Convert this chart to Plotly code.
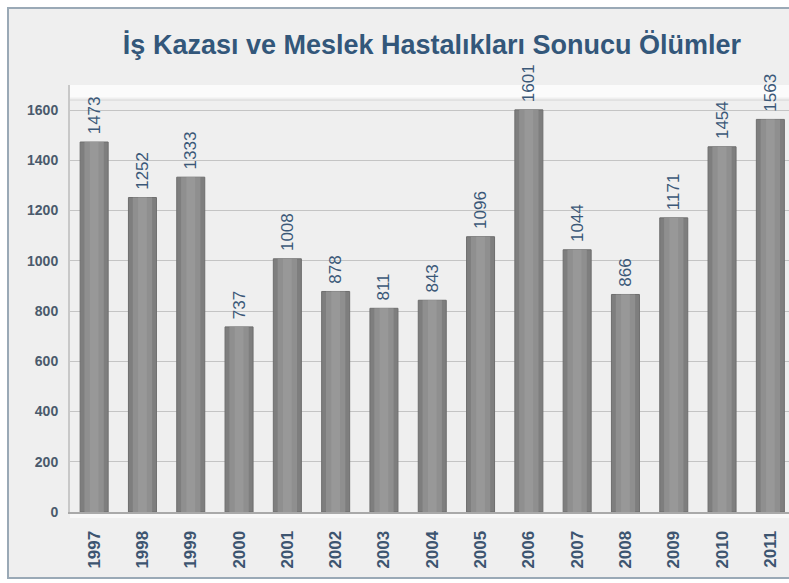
import plotly.graph_objects as go

years = ["1997", "1998", "1999", "2000", "2001", "2002", "2003", "2004",
         "2005", "2006", "2007", "2008", "2009", "2010", "2011"]
deaths = [1473, 1252, 1333, 737, 1008, 878, 811, 843,
          1096, 1601, 1044, 866, 1171, 1454, 1563]
y_ticks = [0, 200, 400, 600, 800, 1000, 1200, 1400, 1600]
title_text = "İş Kazası ve Meslek Hastalıkları Sonucu Ölümler"

fig = go.Figure()
# outer (darker) cylinder body
fig.add_trace(go.Bar(
    x=years, y=deaths, width=0.58,
    marker=dict(color="#7e7e7e", line=dict(color="#6e6e6e", width=1)),
    text=["\u00a0" + str(v) for v in deaths], textposition="outside", textangle=-90,
    constraintext="none",
    textfont=dict(family="Liberation Sans, Arial", size=17, color="#3b5878"),
    cliponaxis=False, hoverinfo="skip", showlegend=False,
))
# lighter inner shading
fig.add_trace(go.Bar(
    x=years, y=deaths, width=0.40,
    marker=dict(color="#8f8f8f", line=dict(width=0)),
    hoverinfo="skip", showlegend=False,
))
fig.add_trace(go.Bar(
    x=years, y=deaths, width=0.18,
    marker=dict(color="#989898", line=dict(width=0)),
    hoverinfo="skip", showlegend=False,
))

W, H = 789, 583
L, T, B = 70, 85, 71
pw, ph = W - L, H - T - B

def px_x(p):
    return (p - L) / pw

def px_y(p):
    return (H - B - p) / ph

shapes = [
    # outer frame
    dict(type="rect", xref="paper", yref="paper",
         x0=px_x(8), x1=px_x(1000), y0=px_y(578), y1=px_y(8),
         fillcolor="#efefef", line=dict(color="#9aa9b6", width=2), layer="below"),
    # white band at top of back wall
    dict(type="rect", xref="paper", yref="y",
         x0=0, x1=1, y0=1650, y1=1700,
         fillcolor="#fbfbfb", line=dict(width=0), layer="below"),
    dict(type="line", xref="paper", yref="y",
         x0=0, x1=1, y0=1640, y1=1640,
         line=dict(color="#d6d6d6", width=1), layer="below"),
    # floor band
    dict(type="rect", xref="paper", yref="paper",
         x0=0, x1=1, y0=px_y(518), y1=0,
         fillcolor="#f8f8f8", line=dict(width=0), layer="below"),
]

fig.update_layout(
    width=W, height=H,
    margin=dict(l=L, r=0, t=T, b=B, autoexpand=False),
    paper_bgcolor="white",
    plot_bgcolor="#ebebeb",
    barmode="overlay",
    shapes=shapes,
    hovermode=False,
    title=dict(text=title_text, x=432 / W, xanchor="center", y=1 - 45 / H, yanchor="middle",
               font=dict(family="Liberation Sans, Arial", size=27, color="#33577a", weight="bold")),
    font=dict(family="Liberation Sans, Arial"),
)
fig.update_xaxes(
    type="category", range=[-0.5, 14.386], automargin=False,
    tickangle=-90, ticklabelstandoff=10,
    tickfont=dict(size=17, color="#3d5570", weight="bold"),
    showgrid=False, showline=True, linecolor="#a9a9a9", linewidth=2,
    ticks="", zeroline=False,
)
fig.update_yaxes(
    range=[0, 1700], tickvals=y_ticks, automargin=False,
    tickfont=dict(size=14, color="#4a5a6c", weight="bold"),
    showgrid=True, gridcolor="#c4c4c4", gridwidth=1,
    showline=True, linecolor="#c8c8c8", linewidth=2,
    zeroline=False, ticks="", ticklabelstandoff=7,
)

fig.write_html(
    "out.html",
    config={"displayModeBar": False},
    post_script="document.body.style.margin='0';document.body.style.overflow='hidden';",
)
